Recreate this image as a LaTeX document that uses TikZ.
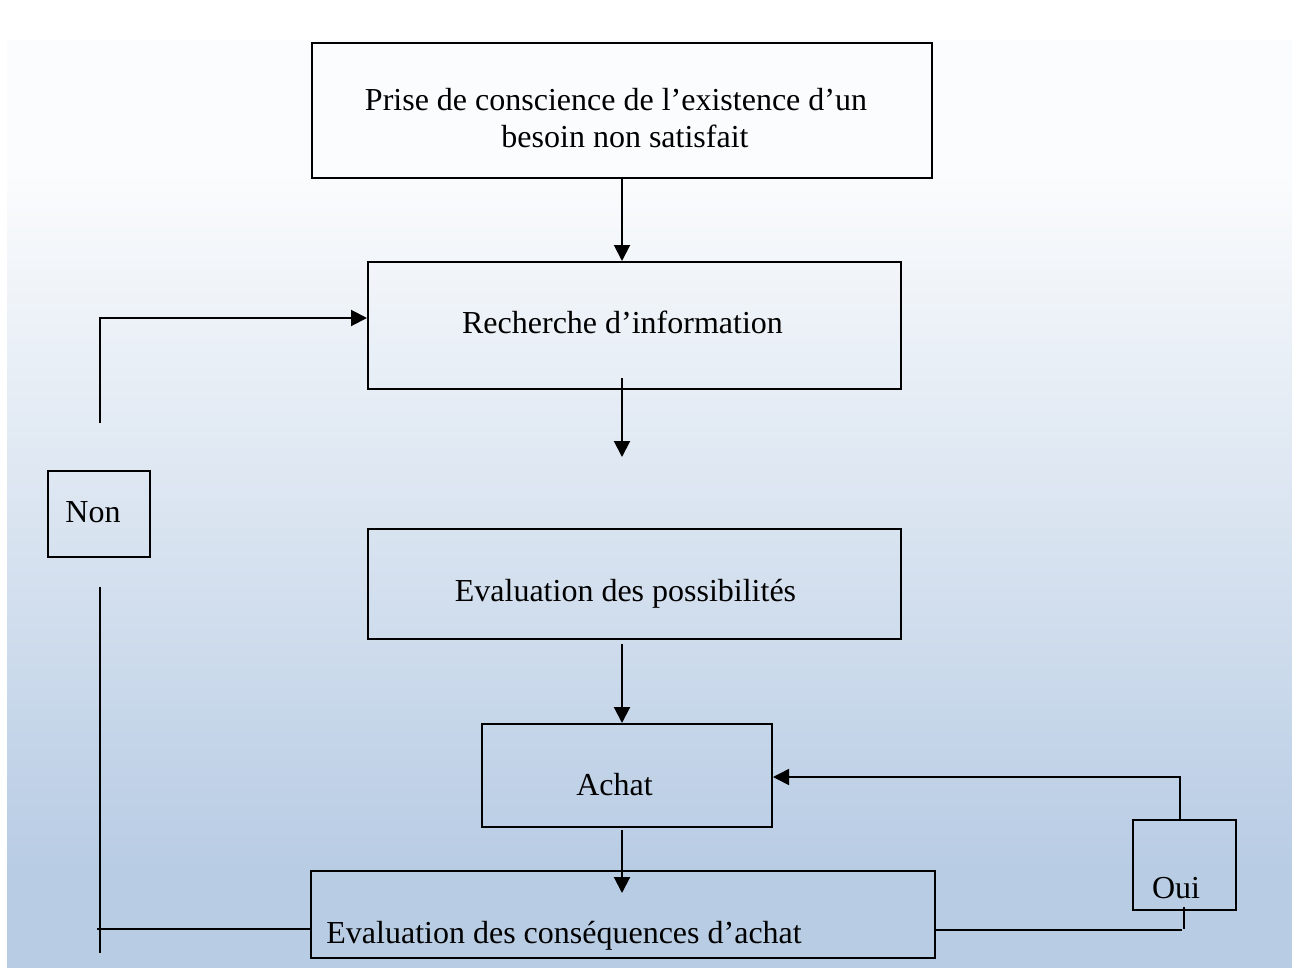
\documentclass[tikz,border=0pt]{standalone}
\usepackage{fontspec}
\setmainfont{Liberation Serif}
\usetikzlibrary{arrows.meta}
\definecolor{bgtop}{HTML}{FBFCFD}
\definecolor{bgbot}{HTML}{B8CCE4}
\begin{document}
\begin{tikzpicture}[x=0.5pt,y=-0.5pt,
  frame/.style={draw, line width=1pt, rectangle, inner sep=0pt},
  smallframe/.style={draw, line width=0.8pt, rectangle, inner sep=0pt},
  txt/.style={font=\fontsize{16}{18.5}\selectfont, inner sep=0pt, anchor=base},
  link/.style={line width=1pt},
  thinlink/.style={line width=0.75pt},
  arr/.style={link, -{Triangle[length=8pt,width=8pt]}},
  thinarr/.style={thinlink, -{Triangle[length=8pt,width=8pt]}},
]
\useasboundingbox (0,0) rectangle (1292,970);

% background: white fading into light blue
\fill[bgtop] (7,40) rectangle (1292,171);
\shade[top color=bgtop, bottom color=bgbot] (7,170) rectangle (1292,870);
\fill[bgbot] (7,869) rectangle (1292,968);

% process boxes
\node[frame, minimum width=310pt, minimum height=67.5pt] (need) at (622,110.5) {};
\node[txt] (needA) at (616,110) {Prise de conscience de l’existence d’un};
\node[txt] (needB) at (625,147) {besoin non satisfait};

\node[frame, minimum width=266.5pt, minimum height=63.5pt] (search) at (634.5,325.5) {};
\node[txt] (searchT) at (622.5,333) {Recherche d’information};

\node[frame, minimum width=266.5pt, minimum height=55pt] (options) at (634.5,584) {};
\node[txt] (optionsT) at (625.5,601) {Evaluation des possibilités};

\node[frame, minimum width=145pt, minimum height=51.5pt] (buy) at (627,775.5) {};
\node[txt] (buyT) at (614.5,795) {Achat};

\node[frame, minimum width=312pt, minimum height=43.5pt] (outcome) at (623,914.5) {};
\node[txt, anchor=base west] (outcomeT) at (326,943) {Evaluation des conséquences d’achat};

% decision boxes
\node[smallframe, minimum width=51pt, minimum height=43pt] (no) at (99,514) {};
\node[txt] (noT) at (93,522) {Non};

\node[smallframe, minimum width=51.5pt, minimum height=45pt] (yes) at (1184.5,865) {};
\node[txt] (yesT) at (1176,898) {Oui};

% main flow
\draw[arr] (need.south) -- (need.south |- search.north);
\coordinate (s1) at (622,378);
\coordinate (s2) at (622,457);
\draw[arr] (s1) -- (s2);
\draw[arr] ([yshift=-2pt]options.south -| need.south) -- (need.south |- buy.north);
\coordinate (b2) at (622,893);
\draw[arr] ([yshift=-1pt]buy.south -| need.south) -- (b2);

% "Non" loop back to the information search
\coordinate (nl1) at (97,929);
\coordinate (nl2) at (100,587);
\coordinate (nl3) at (100,953);
\draw[link] (nl1) -- (nl1 -| outcome.west);
\draw[link] (nl2) -- (nl3);
\coordinate (nu) at (100,423);
\coordinate (nt) at (100,318);
\draw[arr] (nu) -- (nt) -- (nt -| search.west);

% "Oui" loop back to the purchase
\coordinate (ob) at (1182,930);
\draw[thinlink] (ob -| outcome.east) -- (ob);
\coordinate (tk1) at (1184,907);
\coordinate (tk2) at (1184,929);
\draw[thinlink] (tk1) -- (tk2);
\coordinate (yt) at (1180,777);
\draw[thinarr] (yes.north -| yt) -- (yt) -- (yt -| buy.east);
\end{tikzpicture}
\end{document}
